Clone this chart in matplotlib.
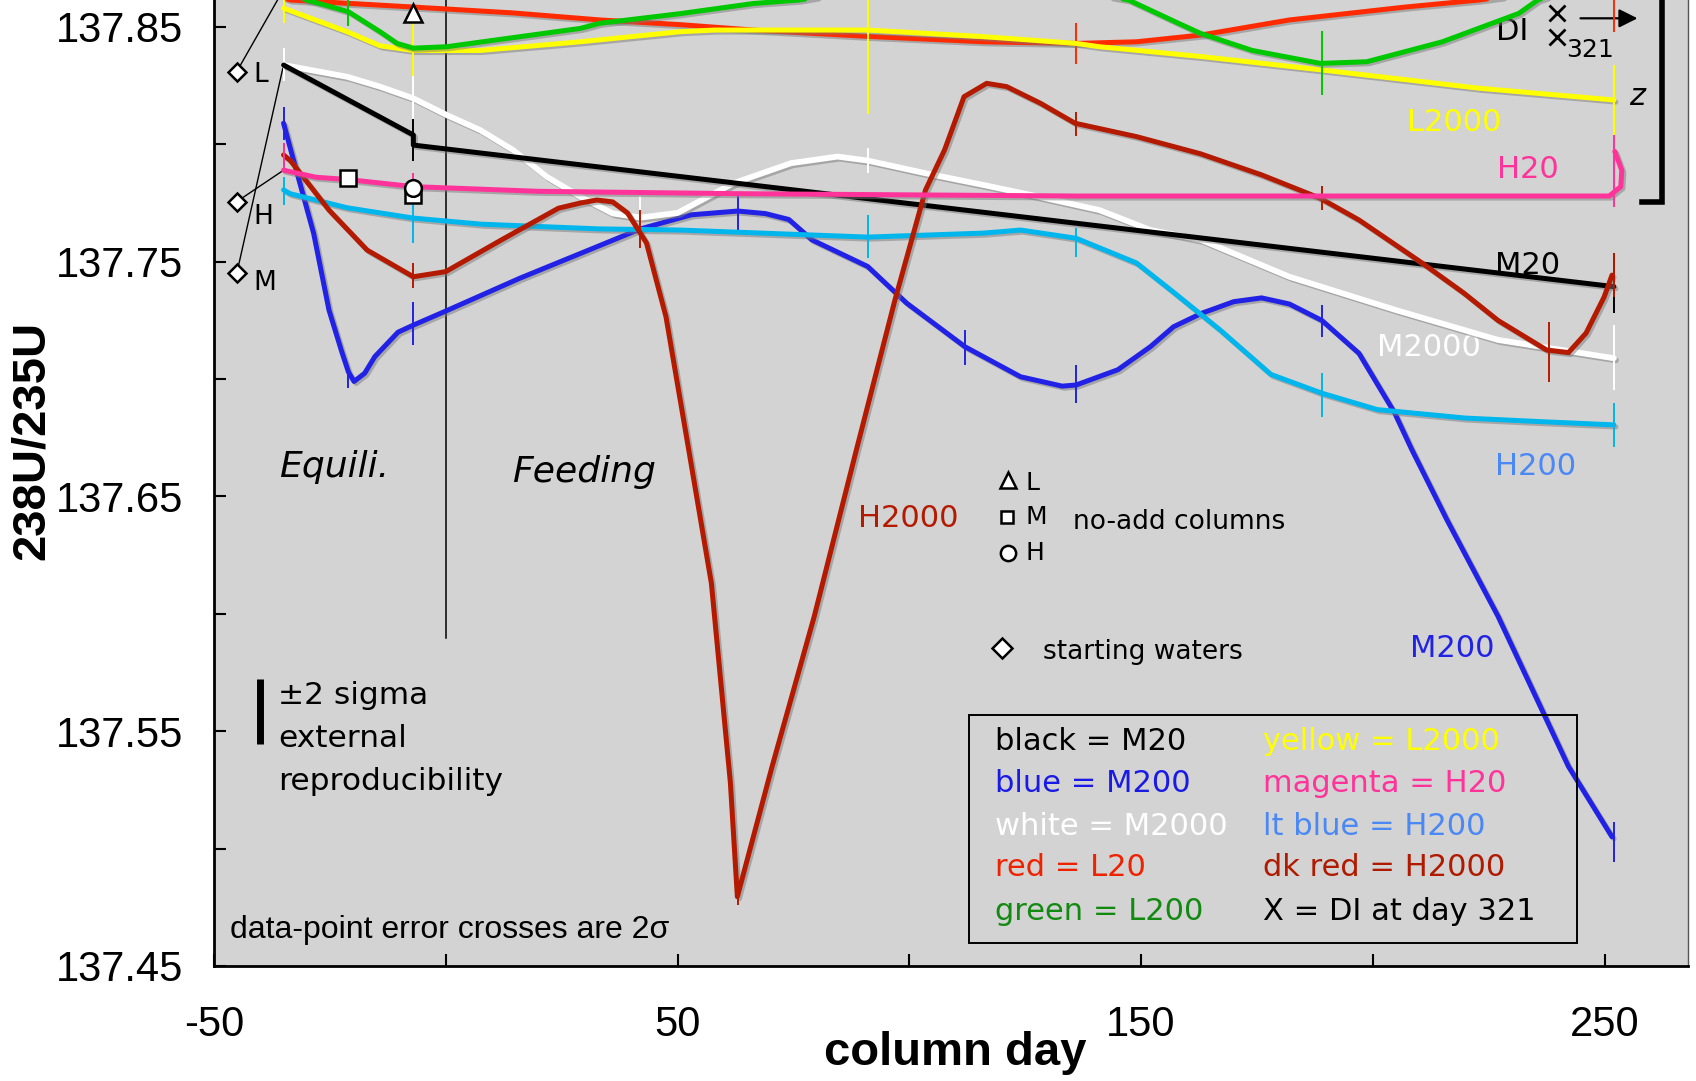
import matplotlib.pyplot as plt
import matplotlib.patheffects as pe
from matplotlib.patches import Rectangle

# axis ticks
day_ticks = [-50, 0, 50, 100, 150, 200, 250]
day_labels = ["-50", "", "50", "", "150", "", "250"]
ratio_ticks = [137.45, 137.50, 137.55, 137.60, 137.65, 137.70, 137.75, 137.80, 137.85]
ratio_labels = ["137.45", "", "137.55", "", "137.65", "", "137.75", "", "137.85"]

# column curves (day, 238U/235U)
m20_day = [-35, -7, -7, 252]
m20_val = [137.8338, 137.8040, 137.7997, 137.7394]

m200_day = [-35, -33.5, -28.5, -25.2, -22.5, -21, -19.8, -17.5, -15.3, -10.3, -7, 0, 16, 32.6, 42,
            53, 63, 69, 74, 79, 91, 99.4, 112, 124, 133, 136, 145, 152, 157, 163, 170, 176, 182,
            189, 197, 204.7, 208.4, 216, 227, 242.2, 251.6]
m200_val = [137.809, 137.798, 137.762, 137.7294, 137.712, 137.703, 137.699, 137.7025, 137.7096,
            137.720, 137.723, 137.729, 137.743, 137.7564, 137.764, 137.770, 137.7716, 137.7705,
            137.768, 137.7593, 137.748, 137.7324, 137.7138, 137.701, 137.697, 137.6975, 137.704,
            137.7138, 137.7223, 137.728, 137.733, 137.7346, 137.732, 137.725, 137.711, 137.6856,
            137.670, 137.640, 137.599, 137.535, 137.505]

m2000_day = [-35, -21.3, -14.2, -7, 0.2, 7.4, 14.5, 21.8, 29, 36, 42, 50, 62, 74.5, 84.5, 91,
             103.5, 116, 128, 141, 152, 163, 182, 205, 227, 252]
m2000_val = [137.8338, 137.8288, 137.8246, 137.8196, 137.8125, 137.8061, 137.7976, 137.7862,
             137.7777, 137.7706, 137.7688, 137.7708, 137.7834, 137.7920, 137.7948, 137.7931,
             137.7877, 137.7827, 137.7777, 137.7720, 137.7635, 137.7593, 137.7436, 137.7294,
             137.7167, 137.7089]

l20_day = [-35, -33.6, -7, 14.5, 33.3, 50.6, 66.3, 91, 116, 136, 149, 163, 182, 207, 223, 240, 252]
l20_val = [137.8625, 137.8615, 137.8585, 137.856, 137.853, 137.851, 137.8487, 137.846, 137.8437,
           137.843, 137.8437, 137.8466, 137.853, 137.8585, 137.8615, 137.866, 137.869]

l200_day = [-35, -30, -21, -14.2, -10.5, -7, 0.2, 29, 33.3, 50.6, 66.3, 76.3, 112, 147.3, 157.6,
            162.8, 174, 188.7, 198.7, 215, 231.5, 235.6, 245]
l200_val = [137.866, 137.8615, 137.8565, 137.848, 137.843, 137.841, 137.8416, 137.8494, 137.8516,
            137.8557, 137.860, 137.8615, 137.874, 137.8615, 137.852, 137.8473, 137.840, 137.8345,
            137.8352, 137.8437, 137.8558, 137.8615, 137.868]

l2000_day = [-35, -21.3, -14.2, -7, 7.4, 29, 50.6, 58, 91, 116, 136, 141, 163, 189, 223, 252]
l2000_val = [137.858, 137.848, 137.842, 137.840, 137.840, 137.8437, 137.848, 137.8487, 137.8487,
             137.8459, 137.843, 137.8416, 137.8374, 137.8317, 137.8239, 137.8189]

h20_day = [-35, -28, -21, -7, 20, 63, 136, 189, 245, 251, 253.5, 253.7, 252.2]
h20_val = [137.789, 137.786, 137.785, 137.782, 137.780, 137.779, 137.778, 137.778, 137.778,
           137.778, 137.782, 137.789, 137.797]

h200_day = [-35, -33.6, -21.3, -7, 7.7, 33, 50.6, 91, 116, 124, 136, 149, 157, 167, 178, 189,
            201, 220, 235, 252]
h200_val = [137.7806, 137.779, 137.773, 137.7686, 137.766, 137.764, 137.7635, 137.7605, 137.7622,
            137.7635, 137.760, 137.7495, 137.737, 137.721, 137.702, 137.694, 137.687, 137.6834,
            137.682, 137.6805]

h2000_day = [-35, -33.5, -25.2, -17, -7, 0, 12, 24.3, 29, 32.6, 36, 39.2, 43.3, 47.5, 52.4, 57.3,
             61.4, 62.9, 70.4, 79.5, 88.6, 96.9, 103.5, 107.6, 111.8, 116.7, 121, 128.3, 135.75,
             149, 162.8, 176, 188.7, 197, 210.6, 219.6, 227, 237.5, 242.2, 246, 249.9, 251.6]
h2000_val = [137.7955, 137.793, 137.772, 137.755, 137.7436, 137.7458, 137.7593, 137.7728, 137.775,
             137.7763, 137.7755, 137.7708, 137.758, 137.7266, 137.670, 137.613, 137.528, 137.4795,
             137.535, 137.599, 137.670, 137.7337, 137.7806, 137.7976, 137.8203, 137.826, 137.8246,
             137.8175, 137.809, 137.8033, 137.796, 137.787, 137.777, 137.7678, 137.7495,
             137.7367, 137.725, 137.7124, 137.7113, 137.7196, 137.735, 137.7443]

# 2-sigma error crosses: day, centre, half length
m20_err = ([-7, 252], [137.802, 137.741], [0.009, 0.0128])
m200_err = ([-35, -21, -7, 63, 112, 136, 189, 252],
            [137.8089, 137.7011, 137.7238, 137.7714, 137.7135, 137.6979, 137.7249, 137.503],
            [0.007, 0.005, 0.0092, 0.008, 0.0075, 0.008, 0.0068, 0.0085])
m2000_err = ([-35, -7, 42, 91, 252], [137.834, 137.8196, 137.7688, 137.7931, 137.7092],
             [0.007, 0.010, 0.009, 0.0053, 0.0138])
l20_err = ([136, 252], [137.843, 137.868], [0.0089, 0.02])
l200_err = ([-21, 189], [137.8565, 137.8345], [0.006, 0.0136])
l2000_err = ([-35, -7, 91, 252], [137.858, 137.841, 137.848, 137.8189], [0.0065, 0.012, 0.035, 0.015])
h20_err = ([-35, -7, 252], [137.7942, 137.782, 137.7893], [0.0065, 0.006, 0.016])
h200_err = ([-35, -7, 91, 136, 189, 252],
            [137.7801, 137.7671, 137.7608, 137.7582, 137.6932, 137.6805],
            [0.006, 0.009, 0.009, 0.006, 0.0093, 0.0093])
h2000_err = ([-35, -7, 42, 63, 136, 189, 238, 252],
             [137.7955, 137.7441, 137.764, 137.480, 137.8087, 137.7772, 137.7117, 137.7443],
             [0.005, 0.0053, 0.008, 0.004, 0.0053, 0.005, 0.0128, 0.0094])

# no-add columns and starting waters
noadd_l = ([-7], [137.8558])
noadd_m = ([-21, -7], [137.7857, 137.7785])
noadd_h = ([-7], [137.7814])
start_day = [-45.1, -45.1, -45.1]
start_val = [137.831, 137.7756, 137.745]  # L, H, M
di_day = [239.7, 239.7]
di_val = [137.8558, 137.8459]

plt.rcParams["font.family"] = "DejaVu Sans"
fig = plt.figure(figsize=(16.96, 10.81), dpi=100)
ax = fig.add_axes([0.1262, 0.1064, 0.8691, 0.8936])
ax.set_facecolor("#d3d3d3")
ax.set_xlim(-50, 268)
ax.set_ylim(137.45, 137.8615)

shadow = [pe.SimpleLineShadow(offset=(1.5, -1.5), shadow_color="#7a7a7a", alpha=0.5), pe.Normal()]

series = [
    (m200_day, m200_val, m200_err, "#2222e6", 3.6),
    (h200_day, h200_val, h200_err, "#00b6ec", 3.6),
    (m2000_day, m2000_val, m2000_err, "#ffffff", 4.2),
    (m20_day, m20_val, m20_err, "#000000", 3.6),
    (h2000_day, h2000_val, h2000_err, "#b41a00", 3.6),
    (h20_day, h20_val, h20_err, "#ff3399", 3.6),
    (l20_day, l20_val, l20_err, "#ff2a00", 3.6),
    (l2000_day, l2000_val, l2000_err, "#ffff00", 3.6),
    (l200_day, l200_val, l200_err, "#00c800", 3.6),
]
for i, (d, v, err, col, lw) in enumerate(series):
    ax.plot(d, v, color=col, lw=lw, solid_capstyle="round", solid_joinstyle="round",
            zorder=3 + i * 0.1, path_effects=shadow)
    ed, em, eh = err
    ax.vlines(ed, [m - h for m, h in zip(em, eh)], [m + h for m, h in zip(em, eh)],
              color=col, lw=1.4, zorder=3.05 + i * 0.1)

# lines from starting waters to first column samples
ax.plot([start_day[0], l200_day[0]], [start_val[0], l200_val[0]], color="black", lw=1.0, zorder=2.5)
ax.plot([start_day[1], h20_day[0]], [start_val[1], h20_val[0]], color="black", lw=1.0, zorder=2.5)
ax.plot([start_day[2], m20_day[0]], [start_val[2], m20_val[0]], color="black", lw=1.0, zorder=2.5)

mk = dict(markerfacecolor="white", markeredgecolor="black", markeredgewidth=1.8, linestyle="none", zorder=6)
ax.plot(start_day, start_val, marker="D", markersize=9, **mk)
ax.plot(*noadd_l, marker="^", markersize=13, **mk)
ax.plot(*noadd_m, marker="s", markersize=12, **mk)
ax.plot(*noadd_h, marker="o", markersize=12, **mk)
ax.plot(di_day, di_val, marker="x", markersize=11, markeredgecolor="black", markeredgewidth=2,
        linestyle="none", zorder=6)

for lab, yv in zip(["L", "H", "M"], [137.8296, 137.7692, 137.7408]):
    ax.text(-41.6, yv, lab, fontsize=19, va="center")

# equilibration / feeding split
ax.plot([0, 0], [137.5897, 137.8615], color="black", lw=1.1, zorder=2)
ax.text(-36, 137.6626, "Equili.", fontsize=26, style="italic", va="center")
ax.text(14.2, 137.6606, "Feeding", fontsize=26, style="italic", va="center")

# series labels
ax.text(89.0, 137.6407, "H2000", color="#b41a00", fontsize=22, va="center")
ax.text(208.0, 137.5853, "M200", color="#2222e6", fontsize=22, va="center")
ax.text(226.4, 137.6627, "H200", color="#4a88f5", fontsize=22, va="center")
ax.text(200.8, 137.7133, "M2000", color="white", fontsize=22, va="center")
ax.text(226.4, 137.7486, "M20", color="black", fontsize=22, va="center")
ax.text(226.7, 137.7895, "H20", color="#ff3399", fontsize=22, va="center")
ax.text(207.3, 137.8095, "L2000", color="#ffff00", fontsize=22, va="center")
ax.text(185.9, 137.8605, "L20", color="#ff2a00", fontsize=22, va="bottom", clip_on=True)
ax.text(226.5, 137.848, "DI", color="black", fontsize=22, va="center")
ax.text(241.7, 137.840, "321", color="black", fontsize=18, va="center")
ax.text(255.2, 137.8203, "z", color="black", fontsize=22, style="italic", va="center")
ax.annotate("", xy=(257.7, 137.8537), xytext=(244.2, 137.8537),
            arrowprops=dict(arrowstyle="-|>", color="black", lw=1.6, mutation_scale=28))
ax.plot([258.1, 262.4, 262.4], [137.7756, 137.7756, 137.8615], color="black", lw=4,
        solid_joinstyle="miter", clip_on=False, zorder=5)

# marker key
ax.plot([121.3], [137.657], marker="^", markersize=11, **mk)
ax.plot([121.1], [137.6411], marker="s", markersize=9, **mk)
ax.plot([121.2], [137.6258], marker="o", markersize=11, **mk)
ax.plot([120.0], [137.5853], marker="D", markersize=10, **mk)
ax.text(125.0, 137.6557, "L", fontsize=18, va="center")
ax.text(125.0, 137.6411, "M", fontsize=18, va="center")
ax.text(125.0, 137.6261, "H", fontsize=18, va="center")
ax.text(135.3, 137.6393, "no-add columns", fontsize=19, va="center")
ax.text(128.9, 137.5839, "starting waters", fontsize=19, va="center")

# reproducibility bar
ax.plot([-40.1, -40.1], [137.5446, 137.5723], color="black", lw=5, solid_capstyle="butt")
ax.text(-36.2, 137.5654, "\u00b12 sigma", fontsize=22.5, va="center")
ax.text(-36.2, 137.5467, "external", fontsize=22.5, va="center")
ax.text(-36.2, 137.5288, "reproducibility", fontsize=22.5, va="center")
ax.text(-46.5, 137.4653, "data-point error crosses are 2\u03c3", fontsize=23,
        fontfamily="Liberation Sans", va="center")

# colour key box
ax.add_patch(Rectangle((112.9, 137.4598), 131.1, 0.0971, facecolor="none", edgecolor="black",
                       lw=1.4, zorder=4))
key_rows = [137.5456, 137.5278, 137.5096, 137.4919, 137.4731]
key_left = [("black = M20", "black"), ("blue = M200", "#1a1ae6"), ("white = M2000", "white"),
            ("red = L20", "#ee2200"), ("green = L200", "#128a12")]
key_right = [("yellow = L2000", "#ffff00"), ("magenta = H20", "#ff3399"),
             ("lt blue = H200", "#4a88f5"), ("dk red = H2000", "#b01a00"),
             ("X = DI at day 321", "black")]
for yv, (t1, c1), (t2, c2) in zip(key_rows, key_left, key_right):
    ax.text(118.5, yv, t1, color=c1, fontsize=22, va="center", zorder=5)
    ax.text(176.2, yv, t2, color=c2, fontsize=22, va="center", zorder=5)

# axes styling
ax.set_xticks(day_ticks)
ax.set_xticklabels(day_labels, fontfamily="Liberation Sans", fontsize=30)
ax.set_yticks(ratio_ticks)
ax.set_yticklabels(ratio_labels, fontfamily="Liberation Sans", fontsize=30)
ax.tick_params(axis="both", direction="in", length=8.5, width=1.5)
ax.tick_params(axis="x", pad=28)
ax.tick_params(axis="y", pad=22)
ax.spines["top"].set_visible(False)
ax.spines["left"].set_linewidth(2)
ax.spines["bottom"].set_linewidth(2)
ax.spines["right"].set_linewidth(1)
ax.spines["right"].set_color("#555555")

fig.text(0.5631, 0.0144, "column day", fontfamily="Liberation Sans", fontweight="bold",
         fontsize=34, ha="center", va="baseline")
fig.text(0.0189, 0.5924, "238U/235U", fontfamily="Liberation Sans", fontweight="bold",
         fontsize=34, rotation=90, ha="center", va="center")

fig.savefig("out.png", dpi=100, facecolor="white")
